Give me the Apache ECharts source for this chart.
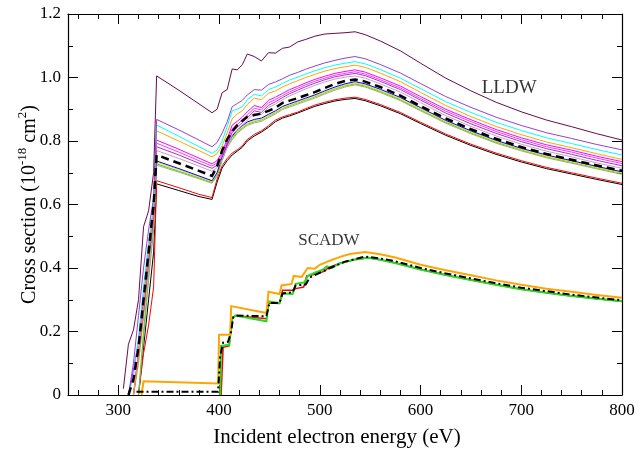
<!DOCTYPE html>
<html><head><meta charset="utf-8">
<script src="https://cdn.jsdelivr.net/npm/echarts@6/dist/echarts.min.js"></script>
<style>html,body{margin:0;padding:0;background:#fff}#c{width:644px;height:451px}</style>
</head><body><div id="c"></div>
<script>
// ---------- tick labels ----------
const xMajorTicks = [300, 400, 500, 600, 700, 800];
const xMinorTicks = [260, 280, 320, 340, 360, 380, 420, 440, 460, 480, 520, 540, 560, 580, 620, 640, 660, 680, 720, 740, 760, 780];

// ---------- LLDW (common energy grid, eV) ----------
const lldwE = [300,305,310,315,320,325,330,335,338,360,380,393,398,403,408,413,418,423,428,435,442,449,456,463,470,478,486,495,505,515,525,535,545,560,580,600,625,650,675,700,725,750,775,800];

const lldwMaroon = [null,0.02,0.16,0.205,0.30,0.53,0.58,0.70,1.005,0.96,0.917,0.889,
  0.900,0.952,0.962,1.027,1.024,1.040,1.074,1.066,1.052,1.078,1.077,1.092,1.096,1.112,1.120,1.130,1.137,1.139,1.141,1.144,
  1.135,1.115,1.084,1.045,0.998,0.958,0.922,0.892,0.866,0.845,0.823,0.803];
const lldwPurple = [null,null,0,0.10,0.25,0.40,0.52,0.62,0.868,0.835,0.803,0.782,
  0.795,0.825,0.860,0.908,0.918,0.928,0.945,0.962,0.960,0.978,0.986,0.996,1.007,1.016,1.026,1.036,1.046,1.054,1.061,1.066,
  1.059,1.041,1.014,0.981,0.940,0.906,0.875,0.849,0.826,0.808,0.789,0.772];
const lldwCyan = [null,null,0,0.06,0.18,0.34,0.48,0.60,0.850,0.815,0.782,0.761,
  0.772,0.800,0.845,0.895,0.900,0.908,0.930,0.947,0.942,0.962,0.970,0.981,0.992,1.001,1.011,1.021,1.031,1.039,1.045,1.050,
  1.043,1.025,0.998,0.965,0.924,0.890,0.859,0.833,0.810,0.792,0.773,0.756];
const lldwOrange = [null,null,null,0,0.12,0.28,0.45,0.58,0.832,0.800,0.770,0.750,
  0.760,0.785,0.825,0.870,0.885,0.895,0.915,0.935,0.930,0.950,0.958,0.970,0.980,0.990,1.000,1.010,1.020,1.028,1.034,1.039,
  1.032,1.014,0.987,0.953,0.912,0.877,0.846,0.820,0.797,0.779,0.760,0.742];
const lldwMagenta = [null,null,0,0.08,0.17,0.30,0.46,0.58,0.803,0.774,0.746,0.728,
  0.738,0.765,0.805,0.850,0.862,0.875,0.892,0.912,0.905,0.928,0.938,0.950,0.962,0.972,0.983,0.994,1.004,1.013,1.019,1.024,
  1.017,0.999,0.973,0.940,0.900,0.867,0.836,0.810,0.788,0.771,0.752,0.735];
const lldwMagenta2 = [null,null,null,0,0.14,0.27,0.44,0.57,0.793,0.765,0.738,0.721,
  0.731,0.758,0.797,0.838,0.852,0.866,0.882,0.903,0.898,0.920,0.931,0.943,0.955,0.966,0.977,0.988,0.998,1.007,1.013,1.018,
  1.011,0.993,0.967,0.934,0.894,0.861,0.830,0.804,0.782,0.765,0.746,0.729];
const lldwViolet = [null,null,null,0,0.12,0.26,0.42,0.56,0.782,0.756,0.730,0.714,
  0.724,0.750,0.788,0.828,0.843,0.858,0.873,0.895,0.890,0.912,0.924,0.937,0.949,0.960,0.971,0.982,0.993,1.002,1.008,1.013,
  1.006,0.988,0.962,0.929,0.888,0.854,0.824,0.798,0.776,0.758,0.739,0.722];
const lldwPink = [null,null,null,0,0.10,0.25,0.40,0.55,0.770,0.745,0.721,0.705,
  0.716,0.742,0.780,0.820,0.835,0.850,0.866,0.887,0.883,0.905,0.917,0.930,0.942,0.953,0.964,0.975,0.986,0.995,1.001,1.005,
  0.998,0.980,0.954,0.921,0.880,0.846,0.816,0.790,0.768,0.750,0.731,0.714];
const lldwDashed = [null,null,0,0.05,0.15,0.30,0.45,0.60,0.756,0.730,0.706,0.690,
  0.720,0.770,0.805,0.830,0.850,0.864,0.876,0.882,0.886,0.895,0.905,0.920,0.927,0.935,0.944,0.954,0.967,0.980,0.989,0.994,
  0.987,0.970,0.943,0.910,0.871,0.837,0.807,0.781,0.759,0.741,0.723,0.706];
const lldwBlue = [null,null,null,0,0.13,0.27,0.42,0.56,0.737,0.713,0.690,0.675,
  0.700,0.750,0.790,0.815,0.835,0.848,0.860,0.868,0.872,0.884,0.895,0.909,0.917,0.926,0.935,0.945,0.958,0.970,0.980,0.987,
  0.980,0.963,0.937,0.905,0.865,0.832,0.802,0.777,0.756,0.738,0.720,0.703];
const lldwYellow = [null,null,null,0,0.10,0.24,0.40,0.55,0.733,0.710,0.687,0.673,
  0.697,0.746,0.786,0.811,0.831,0.844,0.856,0.864,0.868,0.880,0.891,0.905,0.913,0.922,0.931,0.941,0.954,0.966,0.976,0.983,
  0.976,0.959,0.933,0.901,0.862,0.829,0.799,0.774,0.752,0.735,0.717,0.700];
const lldwGreen = [null,null,null,null,0,0.20,0.38,0.53,0.728,0.705,0.684,0.670,
  0.693,0.742,0.783,0.808,0.828,0.841,0.853,0.861,0.866,0.878,0.889,0.903,0.911,0.920,0.929,0.939,0.952,0.964,0.974,0.980,
  0.973,0.956,0.930,0.898,0.859,0.826,0.796,0.772,0.750,0.733,0.715,0.698];
const lldwOlive = [null,null,null,null,0,0.18,0.36,0.52,0.724,0.702,0.681,0.667,
  0.689,0.738,0.779,0.804,0.824,0.837,0.849,0.857,0.862,0.874,0.885,0.899,0.907,0.916,0.925,0.935,0.948,0.960,0.970,0.977,
  0.970,0.953,0.927,0.895,0.856,0.823,0.793,0.769,0.747,0.730,0.712,0.695];
const lldwRed = [null,null,null,null,0,0.13,0.22,0.34,0.675,0.653,0.632,0.622,
  0.680,0.722,0.745,0.762,0.772,0.785,0.805,0.821,0.832,0.848,0.866,0.876,0.883,0.891,0.902,0.913,0.922,0.930,0.935,0.938,
  0.931,0.915,0.890,0.859,0.822,0.790,0.762,0.738,0.717,0.700,0.683,0.667];
const lldwBlack = [null,null,null,null,0,0.15,0.30,0.45,0.665,0.644,0.625,0.616,
  0.670,0.715,0.738,0.756,0.768,0.780,0.800,0.816,0.828,0.843,0.861,0.872,0.879,0.888,0.898,0.909,0.918,0.926,0.931,0.934,
  0.927,0.911,0.886,0.855,0.818,0.786,0.758,0.734,0.713,0.696,0.679,0.663];

// ---------- SCADW ----------
const scadwOrangeE = [323,325,399,400,411,412,447,449,460,462,472,474,482,488,495,500,510,520,530,545,560,575,600,625,650,675,700,725,750,775,800];
const scadwOrangeV = [0,0.043,0.036,0.19,0.19,0.28,0.258,0.325,0.318,0.345,0.35,0.375,0.372,0.40,0.398,0.41,0.423,0.435,0.444,0.45,0.443,0.433,0.410,0.393,0.377,0.361,0.347,0.335,0.325,0.315,0.306];
const scadwGreenE = [401,402,410,413,416,447,449,460,463,473,476,485,488,495,503,507,512,520,535,548,560,575,600,625,650,675,700,725,750,775,800];
const scadwGreenV = [0,0.155,0.158,0.24,0.25,0.232,0.295,0.29,0.32,0.318,0.35,0.355,0.375,0.385,0.395,0.405,0.40,0.415,0.427,0.432,0.426,0.416,0.395,0.378,0.362,0.347,0.333,0.322,0.312,0.303,0.295];
const scadwRedE = [402,404,410,413,416,447,449,460,463,473,476,484,487,495,505,508,520,535,548,560,575,600,625,650,675,700,725,750,775,800];
const scadwRedV = [0,0.15,0.155,0.24,0.25,0.24,0.29,0.288,0.33,0.33,0.335,0.34,0.375,0.38,0.39,0.40,0.415,0.427,0.432,0.426,0.416,0.395,0.378,0.362,0.347,0.333,0.322,0.312,0.303,0.295];
const scadwBlackE = [318,399,401,404,409,412,414,418,447,450,460,463,473,476,486,490,500,510,525,545,560,575,600,625,650,675,700,725,750,775,800];
const scadwBlackV = [0.01,0.01,0.12,0.165,0.168,0.2,0.245,0.25,0.248,0.29,0.29,0.32,0.323,0.345,0.348,0.37,0.385,0.40,0.42,0.436,0.43,0.421,0.400,0.383,0.367,0.352,0.338,0.327,0.316,0.307,0.298];

// ---------- annotations ----------
const notesLLDW = [[688, 0.967, 'LLDW']];
const notesSCADW = [[509, 0.486, 'SCADW']];

const FONT = 'Liberation Serif';
function line(name, E, V, color, width, type) {
  return {
    name, type: 'line', xAxisIndex: 0, yAxisIndex: 0, symbol: 'none', silent: true,
    animation: false, connectNulls: false,
    lineStyle: { color, width, type: type || 'solid', cap: 'butt', join: 'miter' },
    data: E.map((e, i) => [e, V[i]])
  };
}
function note(data, size) {
  return {
    type: 'scatter', symbolSize: 1, itemStyle: { color: 'rgba(0,0,0,0)' }, silent: true, animation: false,
    data,
    label: { show: true, position: 'inside', formatter: p => p.data[2], fontFamily: FONT, fontSize: size, color: '#000' }
  };
}
const series = [
  line('black', lldwE, lldwBlack, '#000000', 1),
  line('red', lldwE, lldwRed, '#ff0000', 1),
  line('olive', lldwE, lldwOlive, '#a8a878', 1),
  line('green', lldwE, lldwGreen, '#55cc33', 1),
  line('yellow', lldwE, lldwYellow, '#e6e600', 1),
  line('blue', lldwE, lldwBlue, '#0000ff', 1),
  line('pink', lldwE, lldwPink, '#c89cc8', 1),
  line('violet', lldwE, lldwViolet, '#a830d0', 1),
  line('magenta2', lldwE, lldwMagenta2, '#f040f0', 1),
  line('magenta', lldwE, lldwMagenta, '#ff00ff', 1),
  line('orange', lldwE, lldwOrange, '#ffa500', 1),
  line('cyan', lldwE, lldwCyan, '#00ffff', 1),
  line('purple', lldwE, lldwPurple, '#9440d0', 1),
  line('maroon', lldwE, lldwMaroon, '#6b0a4b', 1),
  line('dashed', lldwE, lldwDashed, '#000000', 2.5, [8, 5]),
  line('sRed', scadwRedE, scadwRedV, '#ff0000', 1.5),
  line('sGreen', scadwGreenE, scadwGreenV, '#22dd22', 2),
  line('sOrange', scadwOrangeE, scadwOrangeV, '#ffa500', 2),
  line('sBlack', scadwBlackE, scadwBlackV, '#000000', 2, [7, 3, 2, 3]),
  note(notesLLDW, 19),
  note(notesSCADW, 17)
];

const axisCommon = {
  type: 'value', min: 250, max: 800, splitLine: { show: false }, gridIndex: 0, nameMoveOverlap: false
};
const chart = echarts.init(document.getElementById('c'), null, { renderer: 'canvas' });
chart.setOption({
  animation: false,
  backgroundColor: '#fff',
  grid: { left: 68, right: 22, top: 14, bottom: 56, containLabel: false, outerBoundsMode: 'none' },
  xAxis: [
    Object.assign({}, axisCommon, {
      position: 'bottom',
      axisLine: { show: true, lineStyle: { color: '#000', width: 1.2 } },
      axisTick: { show: true, inside: true, length: 10, customValues: xMajorTicks, lineStyle: { color: '#000', width: 1 } },
      axisLabel: { customValues: xMajorTicks, fontFamily: FONT, fontSize: 17, color: '#000', margin: 7 },
      name: 'Incident electron energy (eV)', nameLocation: 'middle', nameGap: 32,
      nameTextStyle: { fontFamily: FONT, fontSize: 21, color: '#000', padding: [0, 16, 0, 0] }
    }),
    Object.assign({}, axisCommon, {
      position: 'bottom', axisLine: { show: false },
      axisTick: { show: true, inside: true, length: 5, customValues: xMinorTicks, lineStyle: { color: '#000', width: 1 } },
      axisLabel: { show: false }
    }),
    Object.assign({}, axisCommon, {
      position: 'top',
      axisLine: { show: true, lineStyle: { color: '#000', width: 1.2 } },
      axisTick: { show: true, inside: true, length: 10, customValues: xMajorTicks, lineStyle: { color: '#000', width: 1 } },
      axisLabel: { show: false }
    }),
    Object.assign({}, axisCommon, {
      position: 'top', axisLine: { show: false },
      axisTick: { show: true, inside: true, length: 5, customValues: xMinorTicks, lineStyle: { color: '#000', width: 1 } },
      axisLabel: { show: false }
    })
  ],
  yAxis: [
    {
      type: 'value', min: 0, max: 1.2, interval: 0.2, position: 'left', nameMoveOverlap: false,
      axisLine: { show: true, lineStyle: { color: '#000', width: 1.2 } },
      axisTick: { show: true, inside: true, length: 10, lineStyle: { color: '#000', width: 1 } },
      minorTick: { show: true, splitNumber: 2, length: 5, lineStyle: { color: '#000', width: 1 } },
      splitLine: { show: false }, minorSplitLine: { show: false },
      axisLabel: { fontFamily: FONT, fontSize: 17, color: '#000', margin: 7,
        formatter: v => (Math.abs(v) < 1e-9 ? '0' : v.toFixed(1)) },
      name: 'Cross section (10{sup|-18} cm{sup|2})', nameLocation: 'middle', nameGap: 24,
      nameTextStyle: { fontFamily: FONT, fontSize: 20, color: '#000', lineHeight: 28,
        rich: { sup: { fontFamily: FONT, fontSize: 13, color: '#000', verticalAlign: 'top', lineHeight: 13 } } }
    },
    {
      type: 'value', min: 0, max: 1.2, interval: 0.2, position: 'right',
      axisLine: { show: true, lineStyle: { color: '#000', width: 1.2 } },
      axisTick: { show: true, inside: true, length: 10, lineStyle: { color: '#000', width: 1 } },
      minorTick: { show: true, splitNumber: 2, length: 5, lineStyle: { color: '#000', width: 1 } },
      splitLine: { show: false }, minorSplitLine: { show: false },
      axisLabel: { show: false }
    }
  ],
  series
});
</script>
</body></html>
